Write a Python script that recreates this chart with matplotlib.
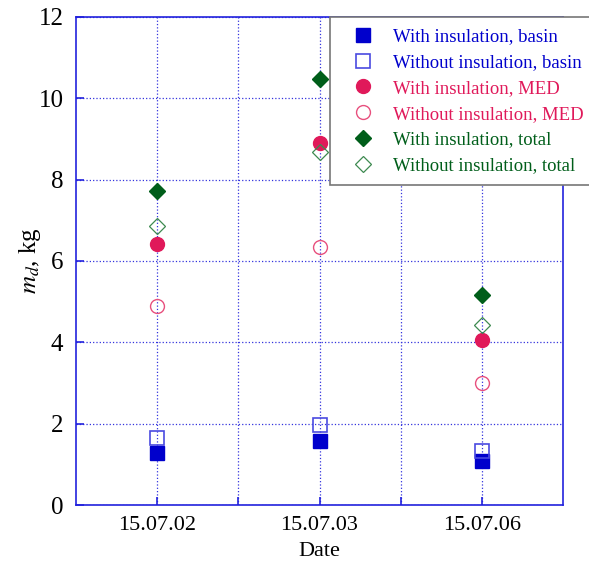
import numpy as np
import matplotlib
matplotlib.use("Agg")
import matplotlib.pyplot as plt

plt.rcParams["font.family"] = ["Liberation Serif", "DejaVu Serif"]
plt.rcParams["mathtext.fontset"] = "stix"

dates = ["15.07.02", "15.07.03", "15.07.06"]

basin_with = [1.28, 1.57, 1.08]
basin_without = [1.65, 1.97, 1.32]
med_with = [6.42, 8.90, 4.06]
med_without = [4.89, 6.34, 3.00]
total_with = [7.72, 10.47, 5.16]
total_without = [6.86, 8.68, 4.43]

BLUE = "#0000cc"
RED = "#e0195a"
GREEN = "#005e1a"

fig = plt.figure(figsize=(5.89, 5.61), dpi=100)
ax = fig.add_axes([0.129, 0.0998, 0.827, 0.87])

x = np.arange(1, len(dates) + 1)

ax.plot(x, basin_with, "s", ms=10, color=BLUE, mec=BLUE,
        label="With insulation, basin", zorder=3)
ax.plot(x, basin_without, "s", ms=10, mfc="none", mec="#4a4ae0", mew=1.2,
        label="Without insulation, basin", zorder=3)
ax.plot(x, med_with, "o", ms=10, color=RED, mec=RED,
        label="With insulation, MED", zorder=3)
ax.plot(x, med_without, "o", ms=10, mfc="none", mec="#e8507e", mew=1.0,
        label="Without insulation, MED", zorder=3)
ax.plot(x, total_with, "D", ms=8, color=GREEN, mec=GREEN,
        label="With insulation, total", zorder=3)
ax.plot(x, total_without, "D", ms=8, mfc="none", mec="#3d8a50", mew=0.9,
        label="Without insulation, total", zorder=3)

ax.set_xlim(0.5, 3.5)
ax.set_ylim(0, 12)
ax.set_xticks(x)
ax.set_xticklabels(dates)
ax.set_xticks([1.5, 2.5], minor=True)
ax.set_yticks(np.arange(0, 13, 2))

ax.grid(True, which="both", axis="x", color="#3333dd", linestyle=":", linewidth=0.9)
ax.grid(True, which="major", axis="y", color="#3333dd", linestyle=":", linewidth=0.9)

for s in ax.spines.values():
    s.set_color("#2222dd")
    s.set_linewidth(1.2)

ax.tick_params(axis="both", which="both", direction="in", color="#2222dd",
               length=6, width=1.2, pad=8)
ax.tick_params(axis="x", labelsize=16)
ax.tick_params(axis="y", labelsize=18, pad=9)

ax.set_xlabel("Date", fontsize=16, labelpad=5)
ax.set_ylabel("$m_d$, kg", fontsize=18, labelpad=-3)

leg = fig.legend(loc="upper left", bbox_to_anchor=(330 / 589, 1 - 17 / 561),
                 fontsize=13.5, frameon=True, fancybox=False, framealpha=1,
                 edgecolor="#777777", borderaxespad=0, handletextpad=0.4,
                 borderpad=0.6, labelspacing=0.46, handlelength=2.35)
leg.get_frame().set_linewidth(1.2)
text_colors = [BLUE, BLUE, RED, RED, GREEN, GREEN]
for t, c in zip(leg.get_texts(), text_colors):
    t.set_color(c)

fig.savefig("out.png", dpi=100)
